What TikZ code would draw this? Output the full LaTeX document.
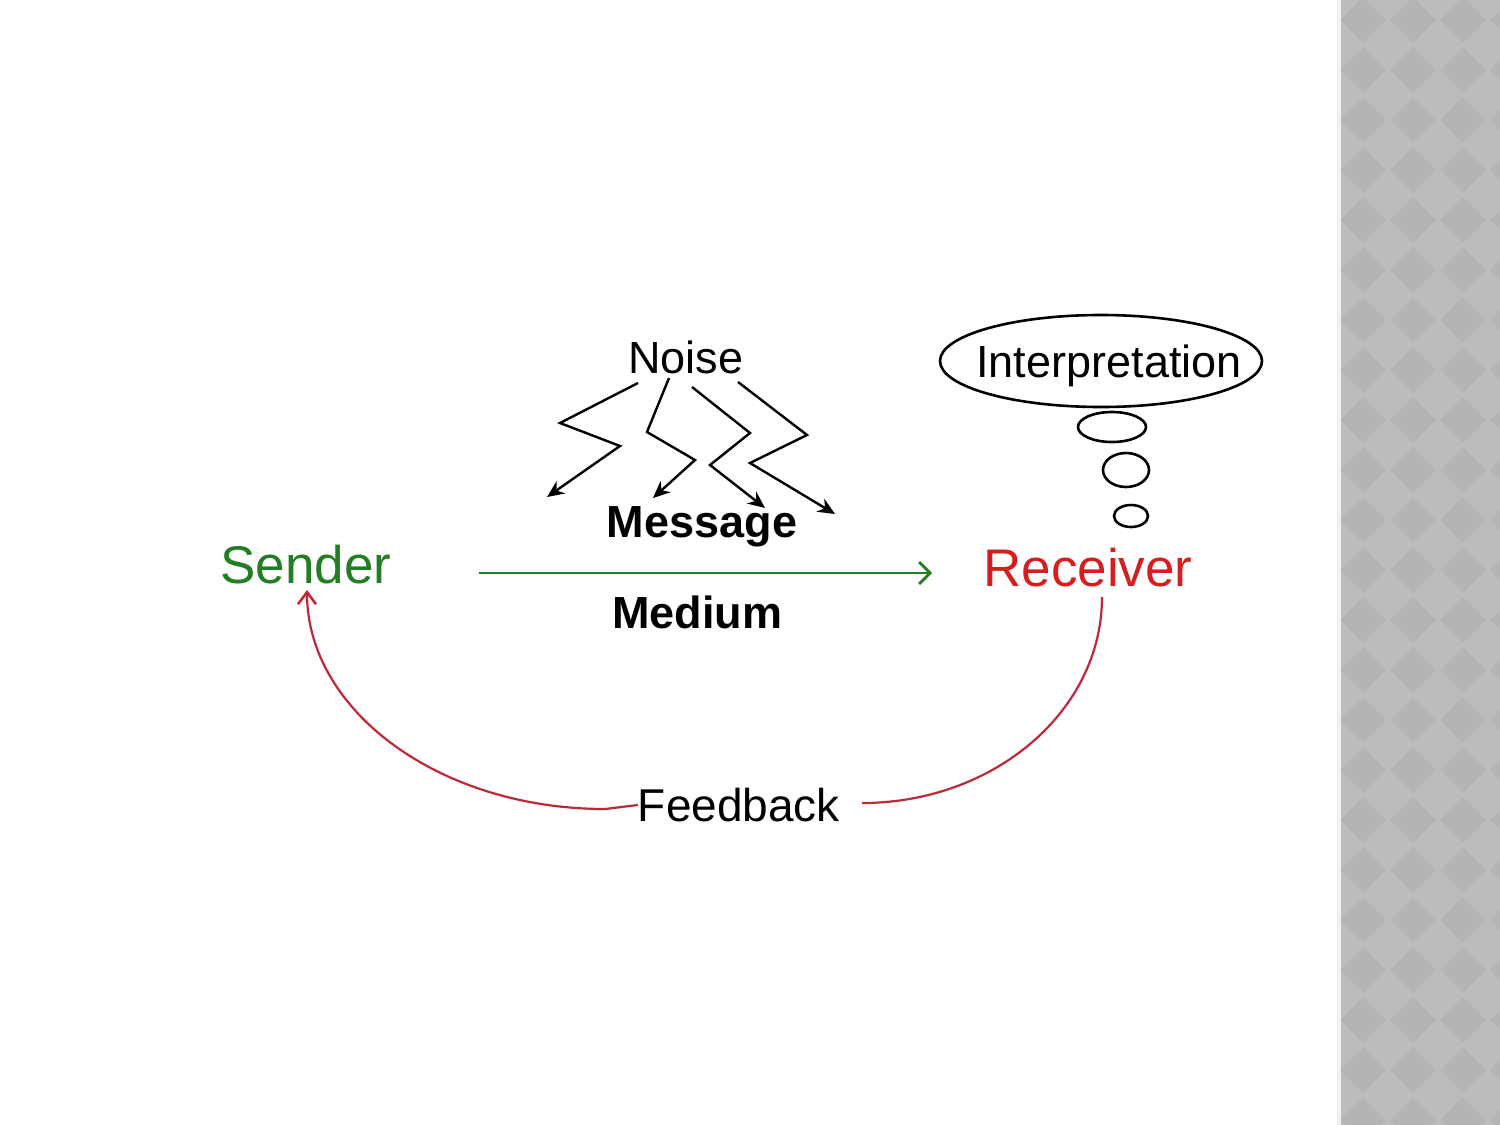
\documentclass[tikz,border=0pt]{standalone}
\usepackage{fontspec}
\setmainfont{Liberation Sans}
\usetikzlibrary{arrows.meta,shapes.geometric}
\definecolor{sgreen}{RGB}{35,125,35}
\definecolor{rred}{RGB}{215,30,30}
\definecolor{fbred}{RGB}{190,40,55}
\definecolor{stripgray}{RGB}{188,188,188}
\definecolor{stripdark}{RGB}{180,180,180}
\tikzset{
  lbl/.style={inner sep=0pt, font=\fontsize{45}{50}\selectfont},
  boldlbl/.style={inner sep=0pt, font=\fontsize{45}{50}\selectfont\bfseries},
  bigl/.style={inner sep=0pt, font=\fontsize{53}{60}\selectfont},
  zig/.style={draw=black, line width=2.4pt, -{Stealth[length=17pt,width=15pt]}},
  bubble/.style={draw=black, line width=2.6pt, ellipse, inner sep=0pt}
}
\begin{document}
\begin{tikzpicture}[x=1pt,y=-1pt]
\useasboundingbox (0,0) rectangle (1500,1125);
\fill[white] (0,0) rectangle (1500,1125);
% right strip
\fill[stripgray] (1337,0) rectangle (1500,1125);
\begin{scope}
\clip (1341,0) rectangle (1500,1125);
\foreach \i in {0,...,3} {
  \foreach \j in {0,...,23} {
    \fill[stripdark] ({1363+50*\i},{20+50*\j}) ++(-23,0) -- ++(23,-23) -- ++(23,23) -- ++(-23,23) -- cycle;
  }
}
\end{scope}
\fill[white!80!stripgray] (1337,0) rectangle (1341,1125);

% main labels
\node[bigl, text=sgreen] (sender) at (306,565) {Sender};
\node[bigl, text=rred] (receiver) at (1088,568) {Receiver};
\node[boldlbl] (message) at (702,527) {Message};
\node[boldlbl] (medium) at (697,612) {Medium};
\node[lbl] (noise) at (686,357) {Noise};
\node[lbl, font=\fontsize{46}{50}\selectfont] (feedback) at (739,805) {Feedback};

% medium arrow
\coordinate (mstart) at (479,573);
\coordinate (mend) at (932,573);
\draw[sgreen, line width=2.4pt, -{Straight Barb[length=11pt,width=22pt,line width=2.8pt]}] (mstart) -- (mend);

% thought bubble
\node[bubble, minimum width=322pt, minimum height=92pt] (thought) at (1101,361) {};
\node[lbl] (interp) at (1109,366) {Interpretation};
\node[bubble, minimum width=68pt, minimum height=30pt] (b1) at (1112,427) {};
\node[bubble, minimum width=46pt, minimum height=34pt] (b2) at (1126,470) {};
\node[bubble, minimum width=34pt, minimum height=22pt] (b3) at (1131,516) {};

% noise zigzags
\coordinate (t1) at (547,497);
\coordinate (t2) at (653,498);
\coordinate (t3) at (765,508);
\coordinate (t4) at (835,514);
\draw[zig] (638,383) -- (560,423) -- (620,446) -- (t1);
\draw[zig] (669,378) -- (647,432) -- (695,460) -- (t2);
\draw[zig] (692,387) -- (750,433) -- (710,465) -- (t3);
\draw[zig] (738,382) -- (807,435) -- (750,463) -- (t4);

% feedback loop
\coordinate (fbr) at (862,803);
\draw[fbred, line width=2.2pt] (1102,597) .. controls (1102,711) and (994,803) .. (fbr);
\draw[fbred, line width=2.2pt, -{Straight Barb[length=12pt,width=18pt,line width=2.6pt]}]
  (feedback.west) -- (605,809) .. controls (440,809) and (307,711) .. (307,590);
\end{tikzpicture}
\end{document}
